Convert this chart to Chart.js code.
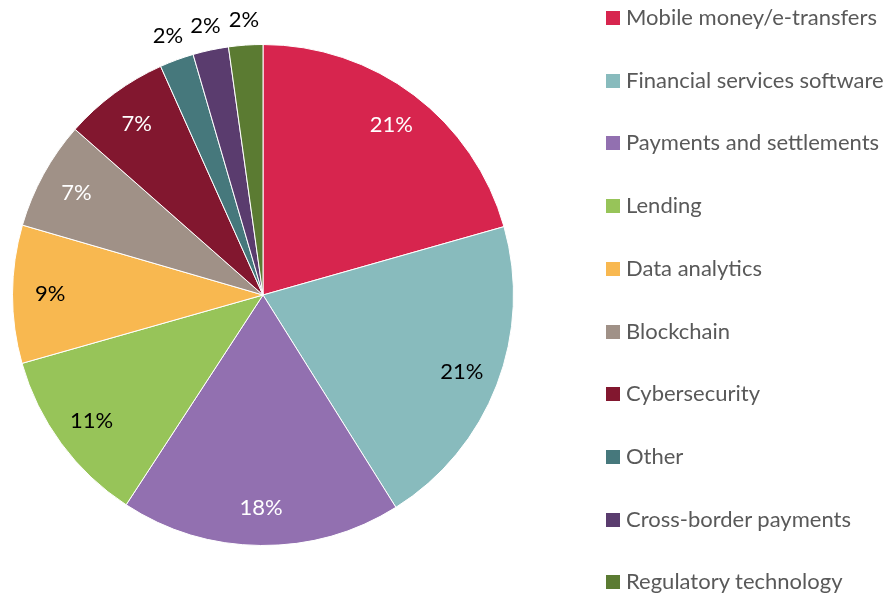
<!DOCTYPE html>
<html>
<head>
<meta charset="utf-8">
<script src="https://cdn.jsdelivr.net/npm/chart.js@4.4.0/dist/chart.umd.min.js"></script>
<style>
  html, body { margin: 0; padding: 0; background: #fff; }
  #wrap { position: relative; width: 888px; height: 597px; }
  #pie { position: absolute; left: 0; top: 0; }
  #legend { position: absolute; left: 0; top: 0; font-family: Lato, "Open Sans", sans-serif; font-size: 22px; color: #595959; }
  .item { position: absolute; left: 606px; height: 26px; line-height: 26px; white-space: nowrap; }
  .item span.box { display: inline-block; width: 14px; height: 14px; margin-right: 6px; vertical-align: 0px; }
</style>
</head>
<body>
<div id="wrap">
  <canvas id="pie" width="888" height="597"></canvas>
  <div id="legend"></div>
</div>
<script>
// categories and shares (percent)
const categories = [
  "Mobile money/e-transfers", "Financial services software", "Payments and settlements",
  "Lending", "Data analytics", "Blockchain", "Cybersecurity", "Other",
  "Cross-border payments", "Regulatory technology"
];
const shares = [20.6, 20.5, 18.1, 11.4, 8.9, 7.0, 6.8, 2.2, 2.3, 2.2];
const sliceColors = ["#D7254E", "#88BBBD", "#9270B0", "#97C459", "#F8B850",
                     "#A09187", "#82172F", "#46787C", "#5A3C6E", "#5B7B32"];
const labelColors = ["#fff", "#000", "#fff", "#000", "#000", "#fff", "#fff", "#000", "#000", "#000"];
const outsideLabel = [false, false, false, false, false, false, false, true, true, true];

// draws the percentage text on / next to each slice
const pctLabels = {
    id: 'pctLabels',
    afterDatasetsDraw(chart) {
        const ctx = chart.ctx;
        const meta = chart.getDatasetMeta(0);
        ctx.save();
        ctx.font = '22px Lato, "Open Sans", sans-serif';
        ctx.textAlign = 'center';
        ctx.textBaseline = 'middle';
        meta.data.forEach((arc, i) => {
            const mid = (arc.startAngle + arc.endAngle) / 2;
            const r = outsideLabel[i] ? arc.outerRadius * 1.1 : arc.outerRadius * 0.85;
            const x = arc.x + Math.cos(mid) * r;
            const y = arc.y + Math.sin(mid) * r;
            ctx.fillStyle = labelColors[i];
            ctx.fillText(Math.round(shares[i]) + '%', x, y);
        });
        ctx.restore();
    }
};

new Chart(document.getElementById('pie'), {
    type: 'pie',
    data: {
        labels: categories,
        datasets: [{
            data: shares,
            backgroundColor: sliceColors,
            borderColor: '#ffffff',
            borderWidth: 1
        }]
    },
    options: {
        responsive: false,
        animation: false,
        layout: { padding: { left: 12, top: 44, bottom: 51, right: 374 } },
        plugins: {
            legend: { display: false },
            tooltip: { enabled: false }
        }
    },
    plugins: [pctLabels]
});

// legend on the right
const legend = document.getElementById('legend');
categories.forEach((name, i) => {
    const div = document.createElement('div');
    div.className = 'item';
    div.style.top = (4 + i * 62.7) + 'px';
    div.innerHTML = '<span class="box" style="background:' + sliceColors[i] + '"></span>' + name;
    legend.appendChild(div);
});
</script>
</body>
</html>
